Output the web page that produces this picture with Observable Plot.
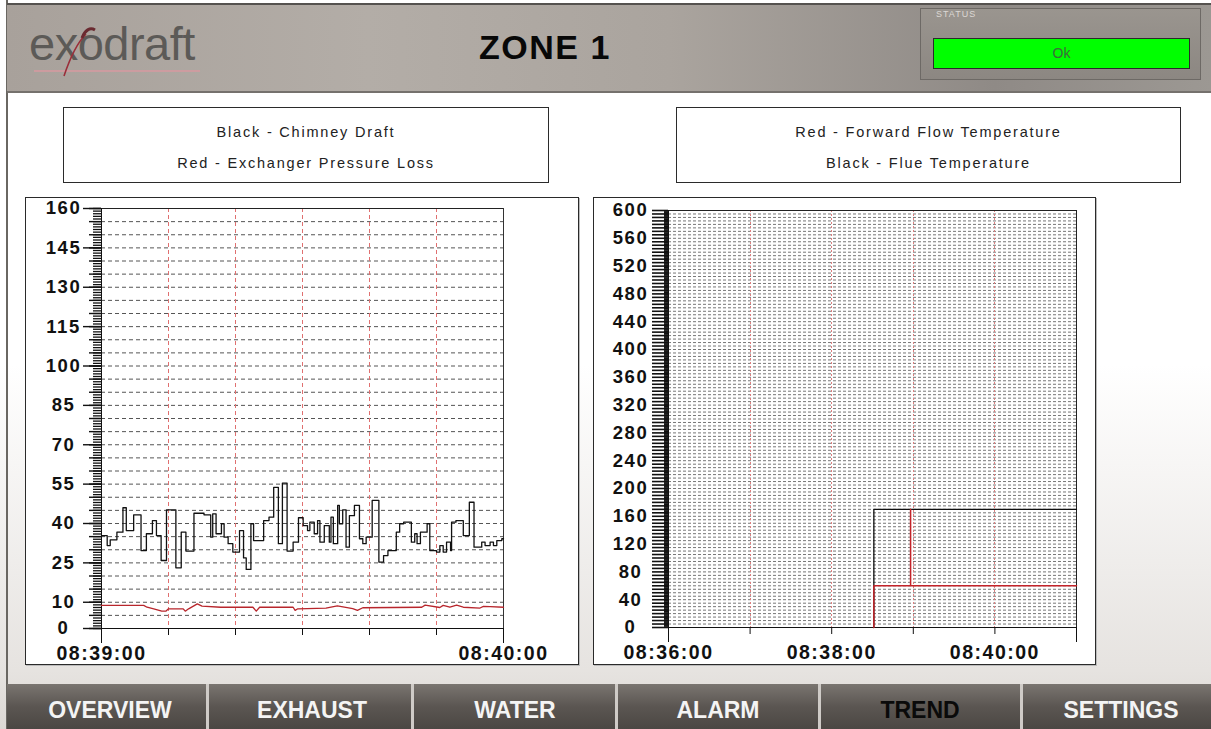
<!DOCTYPE html>
<html><head><meta charset="utf-8">
<script src="https://cdn.jsdelivr.net/npm/d3@7"></script>
<script src="https://cdn.jsdelivr.net/npm/@observablehq/plot@0.6"></script>
<style>
html,body{margin:0;padding:0;}
body{width:1211px;height:729px;position:relative;overflow:hidden;
 background:linear-gradient(to bottom,#ffffff 0%,#ffffff 50%,#e6e3e0 92%,#dcd8d4 100%);
 font-family:"Liberation Sans",Arial,sans-serif;}
.abs{position:absolute;box-sizing:border-box;}
#leftborder{left:6px;top:0;width:2px;height:729px;background:#6a6762;}
#header{left:7px;top:3px;width:1204px;height:90px;
 background:linear-gradient(to right,#a8a19b 0%,#b3ada7 30%,#aaa49e 55%,#8f8a86 82%,#9c9893 100%);
 border-top:2px solid #55524f;border-bottom:2px solid #75716d;}
#logo{left:29px;top:16px;font-size:47px;color:#5c5a57;letter-spacing:-0.5px;}
#logoline{left:34px;top:70px;width:166px;height:2px;background:#d49aa0;opacity:.8;}
#zone{left:420px;top:28px;width:250px;text-align:center;font-size:34px;font-weight:bold;letter-spacing:1.5px;color:#080808;}
#status{left:920px;top:8px;width:281px;height:72px;border:1px solid #6d6965;
 background:linear-gradient(to bottom,#9a958f,#8c8782);}
#statuslbl{left:936px;top:9px;font-size:9px;color:#dcd8d4;letter-spacing:1px;}
#green{left:933px;top:38px;width:257px;height:31px;background:#00ff00;border:1px solid #2a2a2a;
 text-align:center;line-height:29px;font-size:14px;color:#3d6b3d;}
.legend{top:107px;height:76px;border:1px solid #2b2b2b;background:#fff;text-align:center;
 font-size:14.5px;letter-spacing:1.8px;color:#222;}
.legend div{position:absolute;left:0;right:0;}
.frame{top:197px;height:468px;border:1px solid #2a2a2a;background:#fff;box-shadow:1px 1px 0 #bbb;}
.chart{position:absolute;top:197px;}
.chart svg text{letter-spacing:1.5px;}
#nav{left:7px;top:684px;width:1204px;height:45px;background:linear-gradient(to bottom,#7a7570,#5b5652 50%,#4b4743);}
.sep{top:684px;width:3px;height:45px;background:#cfcbc7;}
.btn{top:697px;width:200px;text-align:center;font-size:23px;font-weight:bold;color:#f4f4f4;}
</style></head>
<body>
<div id="leftborder" class="abs"></div>
<div id="header" class="abs"></div>
<div id="logo" class="abs">exodraft</div>
<div id="logoline" class="abs"></div>
<svg class="abs" style="left:40px;top:14px" width="60" height="70"><path d="M24,62 C30,44 36,30 46,20" stroke="#9a2e3a" stroke-width="1.6" fill="none"/><path d="M42,24 C45,16 50,13 55,16" stroke="#6a2a30" stroke-width="3" fill="none"/></svg>
<div id="zone" class="abs">ZONE 1</div>
<div id="status" class="abs"></div>
<div id="statuslbl" class="abs">STATUS</div>
<div id="green" class="abs">Ok</div>

<div class="abs legend" style="left:63px;width:486px;"><div style="top:16px">Black - Chimney Draft</div><div style="top:47px">Red - Exchanger Pressure Loss</div></div>
<div class="abs legend" style="left:676px;width:505px;"><div style="top:16px">Red - Forward Flow Temperature</div><div style="top:47px">Black - Flue Temperature</div></div>

<div class="abs frame" style="left:25px;width:554px;"></div>
<div class="abs frame" style="left:593px;width:503px;"></div>
<div id="c1" class="chart" style="left:25px;"></div>
<div id="c2" class="chart" style="left:593px;"></div>

<div id="nav" class="abs"></div>
<div class="abs sep" style="left:206px"></div>
<div class="abs sep" style="left:411px"></div>
<div class="abs sep" style="left:615px"></div>
<div class="abs sep" style="left:818px"></div>
<div class="abs sep" style="left:1020px"></div>
<div class="abs btn" style="left:10px">OVERVIEW</div>
<div class="abs btn" style="left:212px">EXHAUST</div>
<div class="abs btn" style="left:415px">WATER</div>
<div class="abs btn" style="left:618px">ALARM</div>
<div class="abs btn" style="left:820px;color:#0a0a0a">TREND</div>
<div class="abs btn" style="left:1021px">SETTINGS</div>

<script>
// ---------- data: left chart (seconds after 08:39:00) ----------
const draftTime = [
 0, 0.85, 1.3, 2.3, 3.2, 3.7, 4.8, 5.9, 6.7, 7.6,
 8.2, 8.9, 9.7, 11.1, 11.9, 12.6, 13.8, 15.3, 16.3, 16.6,
 17.1, 17.9, 18.3, 18.9, 19.6, 20.6, 21.2, 21.6, 22.3, 22.7,
 24.2, 25.0, 25.7, 26.4, 27.0, 27.7, 28.6, 29.4, 30.1, 30.75,
 31.1, 31.75, 32.25, 32.6, 33.25, 34.0, 34.25, 34.6, 35.25, 35.5,
 36.0, 36.5, 37.0, 37.75, 38.5, 39.0, 39.5, 40.4, 41.4, 42.1,
 42.75, 44.0, 44.5, 45.1, 46.25, 46.75, 47.1, 47.6, 48.6, 49.0,
 50.0, 50.5, 51.0, 51.5, 52.1, 52.25, 52.9, 54.0, 54.9, 55.6,
 56.75, 57.25, 58.0, 58.5, 59.0, 59.75, 60];
const draftValue = [
 35.4, 31.6, 33.8, 36.7, 46.0, 37.3, 43.3, 29.7, 36.1, 41.1,
 35.4, 25.9, 45.2, 23.1, 36.7, 29.5, 43.9, 43.3, 34.8, 43.7,
 36.1, 39.9, 34.8, 32.3, 29.1, 37.3, 26.9, 22.5, 39.9, 33.5,
 41.1, 42.4, 53.8, 32.3, 55.4, 29.5, 32.9, 42.2, 39.2, 37.3,
 40.5, 36.1, 41.1, 32.9, 39.2, 32.9, 42.4, 32.3, 46.9, 39.9,
 45.2, 31.0, 43.0, 46.9, 34.2, 32.3, 34.8, 48.8, 25.3, 27.8,
 29.7, 36.7, 39.9, 40.5, 32.9, 36.1, 32.3, 36.7, 39.9, 29.7,
 29.1, 31.6, 29.1, 32.9, 29.7, 40.5, 41.1, 35.4, 48.1, 31.0,
 32.9, 31.6, 32.9, 31.6, 33.5, 34.2, 34.2];
const lossTime = [0, 6.3, 6.8, 7.8, 9.0, 9.6, 10.0, 12.2, 12.5, 13.0,
 14.3, 15.0, 17.8, 22.6, 23.1, 23.6, 28.6, 28.9, 29.3, 33.5,
 35.2, 37.5, 38.2, 39.0, 47.8, 48.3, 50.5, 51.0, 52.0, 53.0,
 54.0, 56.5, 57.0, 58.0, 60];
const lossValue = [8.8, 8.8, 8.1, 7.5, 6.6, 6.6, 7.5, 7.5, 6.6, 7.5,
 9.4, 8.5, 8.1, 8.1, 6.6, 8.1, 8.1, 6.9, 7.5, 7.8,
 8.6, 7.6, 6.9, 7.9, 8.1, 8.9, 8.0, 8.8, 8.1, 8.9,
 8.1, 7.8, 8.4, 8.3, 8.1];
const leftStart = "08:39:00", leftEnd = "08:40:00";
const leftYLabels = [0, 10, 25, 40, 55, 70, 85, 100, 115, 130, 145, 160];
const leftXLabels = ["08:39:00", "08:40:00"];

// ---------- data: right chart ----------
const flueTime = ["08:38:31", "08:38:31", "08:41:00"];
const flueValue = [0, 170, 170];
const flowTime = ["08:38:31", "08:38:31", "08:38:58", "08:38:58", "08:38:58", "08:41:00"];
const flowValue = [0, 60, 60, 170, 60, 60];
const rightStart = "08:36:00", rightEnd = "08:41:00";
const rightYLabels = [0, 40, 80, 120, 160, 200, 240, 280, 320, 360, 400, 440, 480, 520, 560, 600];
const rightXLabels = ["08:36:00", "08:38:00", "08:40:00"];
const rightMinuteTicks = ["08:37:00", "08:38:00", "08:39:00", "08:40:00"];

// ---------- build ----------
const parse = d3.utcParse("%H:%M:%S");
const FONT = "Liberation Sans, Arial, sans-serif";

const l0 = parse(leftStart), l1 = parse(leftEnd);
const sec = s => new Date(+l0 + s * 1000);
const draft = draftTime.map((t, i) => ({t: sec(t), v: draftValue[i]}));
const loss = lossTime.map((t, i) => ({t: sec(t), v: lossValue[i]}));
const leftTen = d3.utcSecond.every(10).range(l0, l1).slice(1);

const noText = () => "";
const left = Plot.plot({
  width: 553, height: 468,
  marginLeft: 76, marginRight: 75, marginTop: 11, marginBottom: 37,
  x: {type: "utc", domain: [l0, l1]},
  y: {domain: [0, 160]},
  style: {background: "transparent", fontFamily: FONT, overflow: "visible"},
  marks: [
    Plot.ruleY(d3.range(5, 160, 5), {stroke: "#555", strokeDasharray: "4,3", strokeWidth: 1}),
    Plot.ruleX(leftTen, {stroke: "#e07070", strokeDasharray: "4,3", strokeWidth: 1, shapeRendering: "crispEdges"}),
    Plot.ruleY([160], {stroke: "#222"}),
    Plot.ruleX([l1], {stroke: "#333"}),
    Plot.ruleX([l0], {stroke: "#111"}),
    Plot.ruleY([0], {stroke: "#111"}),
    Plot.axisY({ticks: d3.range(0, 161, 1), tickSize: 8, tickFormat: noText, label: null, stroke: "#111", strokeWidth: 1.3}),
    Plot.axisY({ticks: d3.range(0, 161, 5), tickSize: 12, tickFormat: noText, label: null, stroke: "#111", strokeWidth: 1.4}),
    Plot.axisY({ticks: leftYLabels, tickSize: 18, tickFormat: noText, label: null, stroke: "#111", strokeWidth: 1.4}),
    Plot.axisX({ticks: leftTen, tickSize: 7, tickFormat: noText, label: null, stroke: "#111"}),
    Plot.axisX({ticks: [l0, l1], tickSize: 15, tickFormat: noText, label: null, stroke: "#111"}),
    Plot.text(leftYLabels, {y: d => d, frameAnchor: "left", dx: -38, text: d => String(d),
      textAnchor: "middle", lineAnchor: "middle", fontSize: 18.5, fontWeight: "bold", fill: "#111"}),
    Plot.text(leftXLabels, {x: d => parse(d), frameAnchor: "bottom", dy: 25, text: d => d,
      textAnchor: "middle", lineAnchor: "middle", fontSize: 19.5, fontWeight: "bold", fill: "#111"}),
    Plot.line(loss, {x: "t", y: "v", stroke: "#b8262c", strokeWidth: 1.3}),
    Plot.line(draft, {x: "t", y: "v", stroke: "#111", strokeWidth: 1.3, curve: "step-after"})
  ]
});
document.getElementById("c1").appendChild(left);

const r0 = parse(rightStart), r1 = parse(rightEnd);
const flue = flueTime.map((t, i) => ({t: parse(t), v: flueValue[i]}));
const flow = flowTime.map((t, i) => ({t: parse(t), v: flowValue[i]}));
const minutes = rightMinuteTicks.map(parse);

const right = Plot.plot({
  width: 502, height: 468,
  marginLeft: 75, marginRight: 19, marginTop: 13, marginBottom: 38,
  x: {type: "utc", domain: [r0, r1]},
  y: {domain: [0, 600]},
  style: {background: "transparent", fontFamily: FONT, overflow: "visible"},
  marks: [
    Plot.ruleY(d3.range(5, 600, 5), {stroke: "#777", strokeDasharray: "3,2", strokeWidth: 1}),
    Plot.ruleX(minutes, {stroke: "#dd8080", strokeDasharray: "2,2", strokeWidth: 1, shapeRendering: "crispEdges"}),
    Plot.ruleY([600], {stroke: "#222"}),
    Plot.ruleX([r1], {stroke: "#222"}),
    Plot.ruleX([r0], {stroke: "#111"}),
    Plot.ruleY([0], {stroke: "#111"}),
    Plot.axisY({ticks: d3.range(0, 601, 1), tickSize: 4, tickFormat: noText, label: null, stroke: "#111"}),
    Plot.axisY({ticks: d3.range(0, 601, 5), tickSize: 16, tickFormat: noText, label: null, stroke: "#111", strokeWidth: 1.6}),
    Plot.axisX({ticks: minutes, tickSize: 7, tickFormat: noText, label: null, stroke: "#111"}),
    Plot.axisX({ticks: [r0, r1], tickSize: 15, tickFormat: noText, label: null, stroke: "#111"}),
    Plot.text(rightYLabels, {y: d => d, frameAnchor: "left", dx: -38, text: d => String(d),
      textAnchor: "middle", lineAnchor: "middle", fontSize: 18.5, fontWeight: "bold", fill: "#111"}),
    Plot.text(rightXLabels, {x: d => parse(d), frameAnchor: "bottom", dy: 25, text: d => d,
      textAnchor: "middle", lineAnchor: "middle", fontSize: 19.5, fontWeight: "bold", fill: "#111"}),
    Plot.line(flue, {x: "t", y: "v", stroke: "#111", strokeWidth: 1.3}),
    Plot.line(flow, {x: "t", y: "v", stroke: "#c4242a", strokeWidth: 1.5})
  ]
});
document.getElementById("c2").appendChild(right);
</script>
</body></html>
